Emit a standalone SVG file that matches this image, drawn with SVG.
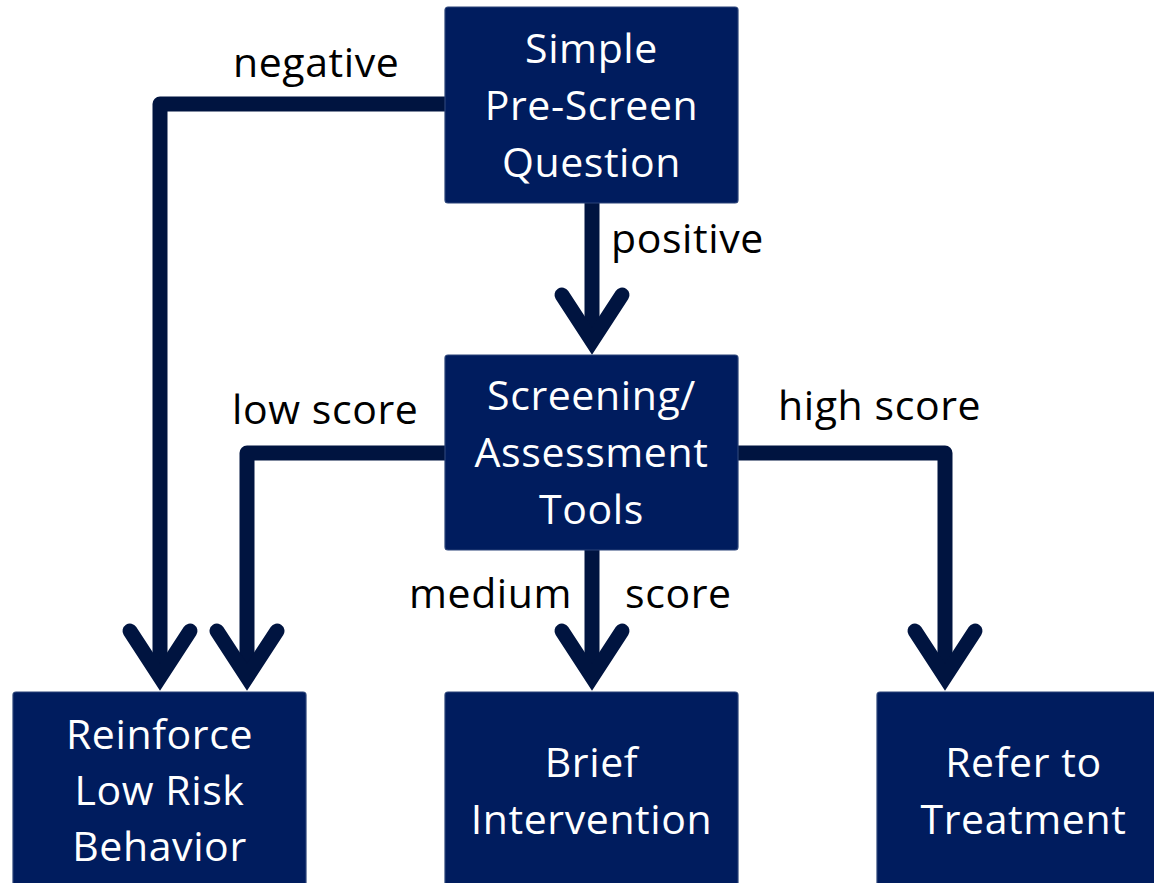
<svg xmlns="http://www.w3.org/2000/svg" width="1154" height="883" viewBox="0 0 1154 883">
  <style>
    .box { fill: #001c5e; stroke: #2a4378; stroke-width: 1.2; }
    .boxtext { font-family: "Open Sans", "Noto Sans", sans-serif; font-size: 41px; letter-spacing: 0.6px; fill: #ffffff; text-anchor: middle; }
    .label { font-family: "Open Sans", "Noto Sans", sans-serif; font-size: 41px; letter-spacing: 0.6px; fill: #000000; }
    .wire { fill: none; stroke: #001440; stroke-width: 15; stroke-linejoin: round; }
    .head { fill: none; stroke: #001440; stroke-width: 15; stroke-linejoin: miter; stroke-linecap: round; stroke-miterlimit: 10; }
  </style>
  <rect width="1154" height="883" fill="#ffffff"/>

  <!-- connectors -->
  <g id="connectors">
    <!-- negative: pre-screen -> reinforce -->
    <path class="wire" d="M445,104 H160 V677"/>
    <polyline class="head" points="130,631 160,677 190,631"/>
    <!-- positive: pre-screen -> screening -->
    <path class="wire" d="M592,203 V341"/>
    <polyline class="head" points="562,295 592,341 622,295"/>
    <!-- low score: screening -> reinforce -->
    <path class="wire" d="M445,453 H247 V677"/>
    <polyline class="head" points="217,631 247,677 277,631"/>
    <!-- medium score: screening -> brief intervention -->
    <path class="wire" d="M592,550 V677"/>
    <polyline class="head" points="562,631 592,677 622,631"/>
    <!-- high score: screening -> referral -->
    <path class="wire" d="M738,453 H945 V677"/>
    <polyline class="head" points="915,631 945,677 975,631"/>
  </g>

  <!-- connector labels -->
  <g id="labels">
    <text class="label" x="233" y="77">negative</text>
    <text class="label" x="611" y="253">positive</text>
    <text class="label" x="232" y="424">low score</text>
    <text class="label" x="778" y="420">high score</text>
    <text class="label" x="409" y="608">medium</text>
    <text class="label" x="625" y="608">score</text>
  </g>

  <g id="node-prescreen">
    <rect class="box" x="445" y="7" width="293" height="196" rx="3"/>
    <text class="boxtext" x="591.5" y="63">Simple</text>
    <text class="boxtext" x="591.5" y="120">Pre-Screen</text>
    <text class="boxtext" x="591.5" y="177">Question</text>
  </g>

  <g id="node-screening">
    <rect class="box" x="445" y="355" width="293" height="195" rx="3"/>
    <text class="boxtext" x="591.5" y="410">Screening/</text>
    <text class="boxtext" x="591.5" y="467">Assessment</text>
    <text class="boxtext" x="591.5" y="524">Tools</text>
  </g>

  <g id="node-reinforce">
    <rect class="box" x="13" y="692" width="293" height="200" rx="3"/>
    <text class="boxtext" x="159.5" y="749">Reinforce</text>
    <text class="boxtext" x="159.5" y="805">Low Risk</text>
    <text class="boxtext" x="159.5" y="861">Behavior</text>
  </g>

  <g id="node-brief">
    <rect class="box" x="445" y="692" width="293" height="200" rx="3"/>
    <text class="boxtext" x="591.5" y="777">Brief</text>
    <text class="boxtext" x="591.5" y="834">Intervention</text>
  </g>

  <g id="node-refer">
    <rect class="box" x="877" y="692" width="293" height="200" rx="3"/>
    <text class="boxtext" x="1023.5" y="777">Refer to</text>
    <text class="boxtext" x="1023.5" y="834">Treatment</text>
  </g>
</svg>
